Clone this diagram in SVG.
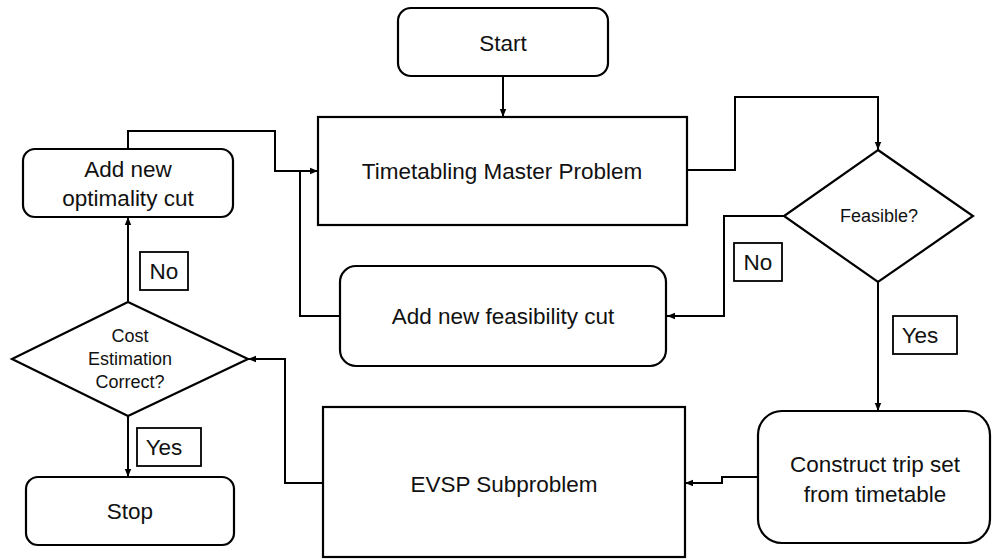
<svg xmlns="http://www.w3.org/2000/svg" width="992" height="559" viewBox="0 0 992 559">
<defs>
<marker id="ah" viewBox="0 0 10 10" refX="10" refY="5" markerWidth="4" markerHeight="4" orient="auto" markerUnits="strokeWidth">
<path d="M0,1 L10,5 L0,9 z" fill="#000"/>
</marker>
<style>
.box{fill:#fff;stroke:#000;stroke-width:2.2}
.lbl{fill:#fff;stroke:#000;stroke-width:1.8}
.c{fill:none;stroke:#000;stroke-width:2;marker-end:url(#ah)}
.n{fill:none;stroke:#000;stroke-width:2}
text{font-family:"Liberation Sans",Arial,sans-serif;fill:#111;text-anchor:middle;dominant-baseline:central}
.t{font-size:22.5px}
.s{font-size:18px}
</style>
</defs>
<rect width="992" height="559" fill="#fff"/>
<g id="connectors">
<path class="c" d="M503,76 V117"/>
<path class="c" d="M687,170 H735 V97 H878 V150"/>
<path class="c" d="M784,216 H724 V316 H667"/>
<path class="n" d="M340,316 H300 V171"/>
<path class="c" d="M128,149 V131 H275 V171 H318"/>
<path class="c" d="M128,302 V217"/>
<path class="c" d="M128,416 V477"/>
<path class="c" d="M878,282 V411"/>
<path class="c" d="M758,477 H722 V483 H685"/>
<path class="c" d="M323,483 H285 V359 H248"/>
</g>
<g id="start"><rect class="box" x="398" y="8" width="210" height="68" rx="13"/><text class="t" x="503" y="43">Start</text></g>
<g id="master"><rect class="box" x="318" y="117" width="369" height="108"/><text class="t" x="502" y="171">Timetabling Master Problem</text></g>
<g id="feasible"><polygon class="box" points="878,150 973,216 878,282 784,216"/><text class="s" x="879" y="216">Feasible?</text></g>
<g id="no1"><rect class="lbl" x="734" y="243" width="48" height="38"/><text class="t" x="758" y="262">No</text></g>
<g id="feascut"><rect class="box" x="340" y="266" width="326" height="100" rx="16"/><text class="t" x="503" y="316">Add new feasibility cut</text></g>
<g id="optcut"><rect class="box" x="23" y="149" width="210" height="68" rx="12"/><text class="t" x="128" y="169">Add new</text><text class="t" x="128" y="198">optimality cut</text></g>
<g id="no2"><rect class="lbl" x="140" y="252" width="48" height="38"/><text class="t" x="164" y="271">No</text></g>
<g id="cost"><polygon class="box" points="128,302 248,359 128,416 12,359"/><text class="s" x="130" y="336">Cost</text><text class="s" x="130" y="359">Estimation</text><text class="s" x="130" y="382">Correct?</text></g>
<g id="yes1"><rect class="lbl" x="137" y="428" width="64" height="38"/><text class="t" x="164" y="447">Yes</text></g>
<g id="stop"><rect class="box" x="26" y="477" width="208" height="68" rx="12"/><text class="t" x="130" y="511">Stop</text></g>
<g id="evsp"><rect class="box" x="323" y="407" width="362" height="150"/><text class="t" x="504" y="484">EVSP Subproblem</text></g>
<g id="yes2"><rect class="lbl" x="893" y="316" width="64" height="38"/><text class="t" x="920" y="335">Yes</text></g>
<g id="construct"><rect class="box" x="758" y="411" width="232" height="132" rx="24"/><text class="t" x="875" y="464">Construct trip set</text><text class="t" x="875" y="494">from timetable</text></g>
</svg>
